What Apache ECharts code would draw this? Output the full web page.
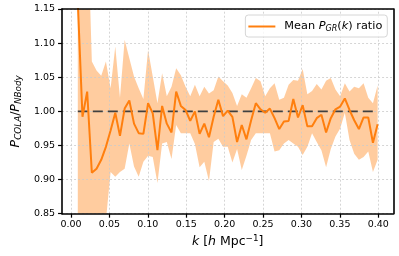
<!DOCTYPE html>
<html><head><meta charset="utf-8">
<script src="https://cdn.jsdelivr.net/npm/echarts@6/dist/echarts.min.js"></script>
<style>html,body{margin:0;padding:0;background:#fff}#c{width:399px;height:256px}</style>
</head><body><div id="c"></div>
<script>
// ---- data ----
const kValues = [0.0088, 0.0149, 0.0210, 0.0271, 0.0332, 0.0393, 0.0454, 0.0515, 0.0576, 0.0637,
  0.0698, 0.0759, 0.0820, 0.0881, 0.0942, 0.1003, 0.1064, 0.1125, 0.1186, 0.1247,
  0.1308, 0.1369, 0.1430, 0.1491, 0.1552, 0.1613, 0.1674, 0.1735, 0.1796, 0.1857,
  0.1918, 0.1979, 0.2040, 0.2101, 0.2162, 0.2223, 0.2284, 0.2345, 0.2406, 0.2467,
  0.2528, 0.2589, 0.2650, 0.2711, 0.2772, 0.2833, 0.2894, 0.2955, 0.3016, 0.3077,
  0.3138, 0.3199, 0.3260, 0.3321, 0.3382, 0.3443, 0.3504, 0.3565, 0.3626, 0.3687,
  0.3748, 0.3809, 0.3870, 0.3931, 0.3992];
const meanRatio = [1.160, 0.992, 1.029, 0.910, 0.916, 0.929, 0.948, 0.972, 0.998, 0.964,
  1.004, 1.016, 0.982, 0.968, 0.967, 1.012, 0.997, 0.943, 1.008, 0.982,
  0.969, 1.029, 1.008, 1.002, 0.986, 1.000, 0.967, 0.982, 0.962, 0.992,
  1.017, 0.993, 1.001, 0.992, 0.955, 0.980, 0.959, 0.987, 1.012, 1.003,
  0.998, 1.004, 0.990, 0.974, 0.985, 0.986, 1.018, 0.991, 1.009, 0.978,
  0.978, 0.990, 0.995, 0.969, 0.990, 1.003, 1.007, 1.019, 1.002, 0.987,
  0.974, 0.991, 0.991, 0.954, 0.981];
const bandLower = [0.55, 0.60, 0.70, 0.75, 0.78, 0.80, 0.84, 0.911, 0.904, 0.911,
  0.916, 0.953, 0.919, 0.904, 0.926, 0.935, 0.933, 0.895, 0.953, 0.955,
  0.930, 0.980, 0.968, 0.968, 0.968, 0.952, 0.918, 0.926, 0.898, 0.955,
  0.960, 0.948, 0.948, 0.925, 0.945, 0.914, 0.935, 0.958, 0.968, 0.968,
  0.968, 0.968, 0.941, 0.943, 0.953, 0.958, 0.953, 0.948, 0.936, 0.948,
  0.968, 0.955, 0.943, 0.918, 0.945, 0.963, 0.975, 0.998, 0.958, 0.938,
  0.929, 0.933, 0.941, 0.911, 0.929];
const bandUpper = [1.50, 1.40, 1.30, 1.073, 1.060, 1.052, 1.073, 1.034, 1.095, 1.020,
  1.105, 1.078, 1.051, 1.034, 1.018, 1.090, 1.051, 1.012, 1.056, 1.022,
  1.036, 1.063, 1.053, 1.036, 1.022, 1.039, 1.022, 1.036, 1.026, 1.031,
  1.051, 1.044, 1.038, 1.027, 1.008, 1.025, 1.020, 1.034, 1.049, 1.044,
  1.022, 1.034, 1.041, 1.017, 1.020, 1.039, 1.046, 1.045, 1.062, 1.025,
  1.030, 1.040, 1.032, 1.045, 1.049, 1.032, 1.022, 1.041, 1.029, 1.036,
  1.034, 1.041, 1.020, 1.012, 1.038];
const refLevel = 1.0;
const xTicks = [0.00, 0.05, 0.10, 0.15, 0.20, 0.25, 0.30, 0.35, 0.40];
const yTicks = [0.85, 0.90, 0.95, 1.00, 1.05, 1.10, 1.15];

// ---- chart ----
const F = 'DejaVu Sans';
const chart = echarts.init(document.getElementById('c'), null, {renderer: 'canvas'});
const bandData = kValues.map((k, i) => [k, bandLower[i], bandUpper[i]]);
const meanData = kValues.map((k, i) => [k, meanRatio[i]]);
const refData = kValues.map(k => [k, refLevel]);
const ORANGE = '#ff7f0e';
const XMIN = -0.0117, XMAX = 0.4196;

const tickLabel = {fontFamily: F, fontSize: 9.5, color: '#000'};
const nameRich = {
  i: {fontFamily: F, fontStyle: 'italic', fontSize: 12.5, lineHeight: 15},
  n: {fontFamily: F, fontSize: 12.5, lineHeight: 15},
  s: {fontFamily: F, fontStyle: 'italic', fontSize: 8.8, lineHeight: 9, padding: [6, 0, 0, 0]},
  u: {fontFamily: F, fontSize: 8.8, lineHeight: 9, padding: [0, 0, 6, 0]}
};

function renderBand(params, api) {
  if (params.dataIndex !== 0) return null;
  const top = [], bottom = [];
  for (let i = 0; i < bandData.length; i++) {
    top.push(api.coord([bandData[i][0], bandData[i][2]]));
    bottom.push(api.coord([bandData[i][0], bandData[i][1]]));
  }
  const pts = top.concat(bottom.reverse());
  const cs = params.coordSys;
  return {
    type: 'polygon',
    shape: {points: pts},
    style: {fill: 'rgba(255,127,14,0.4)', stroke: null},
    clipPath: {type: 'rect', shape: {x: cs.x, y: cs.y, width: cs.width, height: cs.height}},
    silent: true
  };
}

chart.setOption({
  animation: false,
  backgroundColor: '#fff',
  grid: {left: 53.3, right: 5.7, top: 9, bottom: 42.3, containLabel: false},
  legend: {
    right: 11.7, top: 15,
    data: [{name: 'mean', icon: 'rect'}],
    itemWidth: 27, itemHeight: 2,
    selectedMode: false,
    padding: [5, 5, 4, 3],
    backgroundColor: 'rgba(255,255,255,0.8)',
    borderColor: '#d6d6d6', borderWidth: 1, borderRadius: 3,
    formatter: () => '{g|}{n|Mean }{i|P}{s|GR}{n|(}{i|k}{n|) ratio}',
    textStyle: {
      fontFamily: F, fontSize: 11.3, color: '#000',
      rich: {
        g: {width: 4},
        n: {fontFamily: F, fontSize: 11.3, lineHeight: 13},
        i: {fontFamily: F, fontStyle: 'italic', fontSize: 11.3, lineHeight: 13},
        s: {fontFamily: F, fontStyle: 'italic', fontSize: 8, lineHeight: 8, padding: [5, 0, 0, 0]}
      }
    }
  },
  xAxis: [{
    type: 'value', min: XMIN, max: XMAX, position: 'bottom', z: 10,
    axisLine: {show: true, onZero: false, lineStyle: {color: '#000', width: 1.6}},
    axisTick: {show: true, customValues: xTicks, length: 4, lineStyle: {color: '#000', width: 1.2}},
    axisLabel: {show: true, customValues: xTicks, margin: 6, formatter: v => v.toFixed(2), ...tickLabel},
    splitLine: {show: false},
    name: '{i|k}{n| [}{i|h}{n| Mpc}{u|−1}{n|]}',
    nameLocation: 'middle', nameGap: 20,
    nameTextStyle: {fontFamily: F, fontSize: 12.5, color: '#000', rich: nameRich}
  }, {
    type: 'value', min: XMIN, max: XMAX, position: 'top', z: 10,
    axisLine: {show: true, onZero: false, lineStyle: {color: '#000', width: 1.6}},
    axisTick: {show: false}, axisLabel: {show: false}, splitLine: {show: false}
  }],
  yAxis: [{
    type: 'value', min: 0.85, max: 1.15, interval: 0.05, position: 'left', z: 10,
    axisLine: {show: true, onZero: false, lineStyle: {color: '#000', width: 1.6}},
    axisTick: {show: true, length: 4, lineStyle: {color: '#000', width: 1.2}},
    axisLabel: {show: true, margin: 7, formatter: v => v.toFixed(2), ...tickLabel},
    splitLine: {show: false},
    name: '{i|P}{s|COLA}{n|/}{i|P}{s|NBody}',
    nameLocation: 'middle', nameGap: 36, nameRotate: 90,
    nameTextStyle: {fontFamily: F, fontSize: 12.5, color: '#000', rich: nameRich}
  }, {
    type: 'value', min: 0.85, max: 1.15, interval: 0.05, position: 'right', z: 10,
    axisLine: {show: true, onZero: false, lineStyle: {color: '#000', width: 1.6}},
    axisTick: {show: false}, axisLabel: {show: false}, splitLine: {show: false}
  }],
  series: [
    {
      name: 'band', type: 'custom', data: bandData, z: 1, silent: true,
      encode: {x: 0, y: [1, 2]},
      renderItem: renderBand
    },
    {
      name: 'grid', type: 'line', data: [[xTicks[0], yTicks[0]]], z: 2,
      symbol: 'none', silent: true, lineStyle: {opacity: 0},
      markLine: {
        z: 2,
        silent: true, symbol: 'none', animation: false,
        label: {show: false},
        lineStyle: {color: '#cbcbcb', width: 0.8, type: [2, 2]},
        data: [...xTicks.map(v => ({xAxis: v})), ...yTicks.map(v => ({yAxis: v}))]
      }
    },
    {
      name: 'ref', type: 'line', data: refData, z: 3,
      symbol: 'none', silent: true,
      lineStyle: {color: '#404040', width: 1.8, type: [10, 5]}
    },
    {
      name: 'mean', type: 'line', data: meanData, z: 4,
      symbol: 'none', silent: true,
      itemStyle: {color: ORANGE},
      lineStyle: {color: ORANGE, width: 2}
    }
  ]
});
</script>
</body></html>
